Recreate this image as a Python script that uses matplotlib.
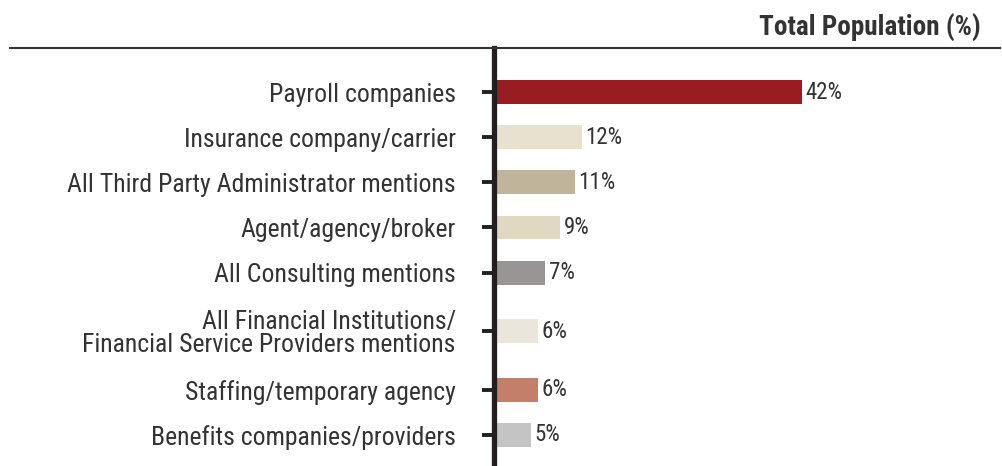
import matplotlib.pyplot as plt
from matplotlib.lines import Line2D

plt.rcParams['font.family'] = ['Roboto Condensed', 'Barlow Semi Condensed', 'DejaVu Sans']

categories = ['Payroll companies',
              'Insurance company/carrier',
              'All Third Party Administrator mentions',
              'Agent/agency/broker',
              'All Consulting mentions',
              'All Financial Institutions/\nFinancial Service Providers mentions',
              'Staffing/temporary agency',
              'Benefits companies/providers']
values = [42, 12, 11, 9, 7, 6, 6, 5]
colors = ['#981C20', '#E8E1CF', '#C0B59B', '#E0D8C0', '#999595',
          '#EAE6DC', '#C47F6B', '#C4C4C4']
title = 'Total Population (%)'

# slot positions: a two-line label gets a bit more room above and below
ypos = []
y = 0.0
for i, c in enumerate(categories):
    extra = 0.3 if '\n' in c else 0.0
    if i > 0:
        y += 1.0 + extra
        if '\n' in categories[i - 1]:
            y += 0.3
    ypos.append(y)

fig = plt.figure(figsize=(10.02, 4.66), dpi=100)
W, H = 1002, 466
ax = fig.add_axes([494 / W, 0, (1000 - 494) / W, (466 - 48) / H])

ax.barh(ypos, values, height=0.53, color=colors, zorder=1)
for yy, v in zip(ypos, values):
    ax.text(v + 0.5, yy, f'{v}%', va='center', ha='left', fontsize=16.5,
            color='#333333')

ax.set_xlim(0, (1000 - 494) / (308 / 42))
ax.set_ylim(ypos[-1] + 0.69, -0.98)
ax.set_yticks(ypos)
ax.set_yticklabels(categories, fontsize=18.5, color='#333333', linespacing=0.95)
ax.tick_params(axis='y', length=8.5, width=2.8, color='#231F20', pad=19)
ax.set_xticks([])
for s in ['top', 'right', 'bottom']:
    ax.spines[s].set_visible(False)
ax.spines['left'].set_linewidth(3.8)
ax.spines['left'].set_color('#231F20')
ax.spines['left'].set_zorder(3)

fig.add_artist(Line2D([10 / W, 1000 / W], [1 - 48 / H, 1 - 48 / H],
                      color='#333333', lw=1.5))
fig.text(981 / W, 1 - 28 / H, title, ha='right', va='center', fontsize=19.5,
         fontweight='bold', color='#333333')

fig.savefig('out.png', dpi=100)
